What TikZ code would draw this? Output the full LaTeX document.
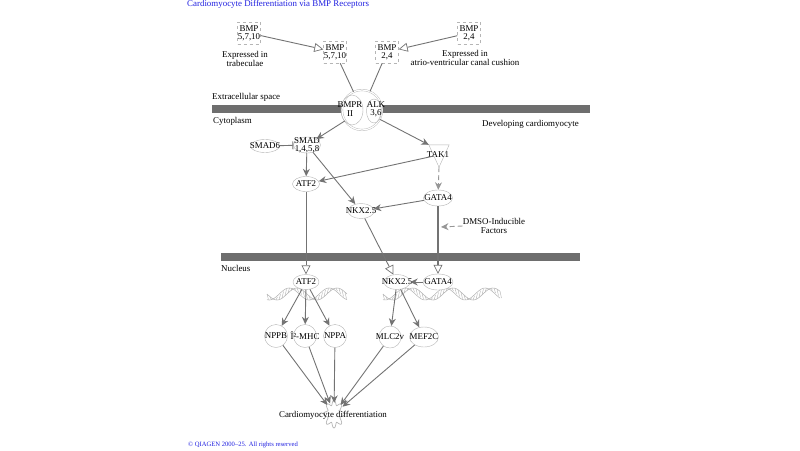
\documentclass[tikz,border=0pt]{standalone}
\usepackage{fontspec}
\setmainfont{Liberation Serif}
\usetikzlibrary{arrows.meta,shapes.geometric,calc}
\definecolor{edgec}{HTML}{737373}
\definecolor{outl}{HTML}{B5B5B5}
\definecolor{barc}{HTML}{6E6E6E}
\definecolor{ttl}{HTML}{2020E0}
\newcommand\mydna[4]{%
  \draw[outl,line width=0.55pt] plot[domain=#1:#2,samples=80] (\x,{#3+6*sin((\x-#4)*9)});
  \draw[outl,line width=0.55pt] plot[domain=#1:#2,samples=80] (\x,{#3+6*sin((\x-#4)*9+70)});
  \pgfmathsetmacro\dnalen{#2-#1}%
  \foreach \t in {0,3,...,\dnalen}{%
    \pgfmathsetmacro\xa{#1+\t}%
    \pgfmathsetmacro\ya{#3+6*sin((\xa-#4)*9)}%
    \pgfmathsetmacro\yb{#3+6*sin((\xa-#4)*9+70)}%
    \draw[outl,line width=0.45pt] (\xa,\ya) -- (\xa+1.5,\yb);
  }%
}
\begin{document}
\begin{tikzpicture}[x=1pt,y=-1pt,font=\fontsize{8.9}{8.9}\selectfont,
  lbl/.style={align=center,inner sep=0pt,font=\fontsize{8.9}{8.4}\selectfont},
  txt/.style={label={[lbl]center:#1}},
  ell/.style={ellipse,draw=outl,fill=white,inner sep=0pt},
  crc/.style={circle,draw=outl,fill=white,inner sep=0pt,minimum size=23pt},
  dbox/.style={draw=outl,dashed,fill=white,inner sep=0pt,minimum width=23pt,minimum height=22pt},
  ln/.style={draw=edgec,line width=0.9pt},
  act/.style={draw=edgec,line width=0.9pt,-{Stealth[length=7.5pt,width=7pt]}},
  opn/.style={draw=edgec,line width=0.9pt,-{Triangle[length=9pt,width=9pt,fill=white,line width=0.7pt]}},
  inh/.style={draw=edgec,line width=0.9pt,-{Bar[width=8pt]}},
  dsh/.style={draw=edgec!75,line width=0.9pt,dash pattern=on 5pt off 3pt,-{Stealth[length=7.5pt,width=7pt]}},
  membrane/.style={fill=barc,draw=none}]
\useasboundingbox (0,0) rectangle (800,450);
% title
\node[anchor=west,text=ttl,inner sep=0pt] (title) at (187,4) {Cardiomyocyte Differentiation via BMP Receptors};
% membranes
\fill[membrane] (212,105) rectangle (590,113);
\fill[membrane] (221,253) rectangle (580,261);
\node[anchor=west,inner sep=0pt] (extra) at (212,97) {Extracellular space};
\node[anchor=west,inner sep=0pt] (cyto) at (213,121) {Cytoplasm};
\node[anchor=west,inner sep=0pt] (dev) at (482,124) {Developing cardiomyocyte};
\node[anchor=west,inner sep=0pt] (nuc) at (221,268) {Nucleus};
% ligands
\node[dbox,txt={BMP\\5,7,10}] (bmpA) at (249,33) {};
\node[lbl] (exA) at (245,59) {Expressed in\\trabeculae};
\node[dbox,txt={BMP\\5,7,10}] (bmpB) at (335,52) {};
\node[dbox,txt={BMP\\2,4}] (bmpC) at (387,52) {};
\node[dbox,txt={BMP\\2,4}] (bmpD) at (469,33) {};
\node[lbl] (exD) at (465,58) {Expressed in\\atrio-ventricular canal cushion};
% receptor
\node[circle,draw=outl,fill=white,double=white,double distance=1.2pt,minimum size=40pt,inner sep=0pt] (rec) at (362,110) {};
\node[ellipse,draw=outl,minimum width=22pt,minimum height=30pt,inner sep=0pt] (bmpr) at (352,110) {};
\node[ellipse,draw=outl,minimum width=15pt,minimum height=24pt,inner sep=0pt] (alk) at (374,111) {};
\node[lbl] (bmprt) at (350,109) {BMPR\\II};
\node[lbl] (alkt) at (376,109) {ALK\\3,6};
% cytoplasm nodes
\node[ell,minimum width=27pt,minimum height=16pt,txt={SMAD\\1,4,5,8}] (smad) at (307,145) {};
\node[ell,minimum width=29pt,minimum height=13pt,txt=SMAD6] (smad6) at (265,146) {};
\node[inner sep=0pt,minimum width=20pt,minimum height=22pt] (tak) at (439,156) {};
\draw[outl,fill=white] (tak.north west) -- (tak.north east) -- (tak.south) -- cycle;
\node[inner sep=0pt] (takt) at (438,155) {TAK1};
\node[ell,minimum width=27pt,minimum height=15pt,txt=ATF2] (atf) at (306,184) {};
\node[ell,minimum width=29pt,minimum height=16pt,txt=GATA4] (gata) at (438,198) {};
\node[ell,minimum width=26pt,minimum height=15pt,txt=NKX2.5] (nkx) at (361,211) {};
\node[lbl] (dmso) at (494,226) {DMSO-Inducible\\Factors};
\coordinate (dm) at (441,227);
% DNA
\mydna{267}{347}{294}{267}
\mydna{383}{500}{294}{383}
% nuclear nodes
\node[ell,minimum width=26pt,minimum height=15pt,txt=ATF2] (atfN) at (306,282) {};
\node[ell,minimum width=26pt,minimum height=15pt,txt=NKX2.5] (nkxN) at (397,282) {};
\node[ell,minimum width=30pt,minimum height=16pt,txt=GATA4] (gataN) at (438,282) {};
% targets
\node[crc,txt=NPPB] (nppb) at (276,336) {};
\node[crc,txt=Î²-MHC] (bmhc) at (305,336) {};
\node[crc,txt=NPPA] (nppa) at (335,336) {};
\node[crc,minimum size=22pt,txt=MLC2v] (mlc) at (390,337) {};
\node[ell,minimum width=29pt,minimum height=20pt,txt=MEF2C] (mef) at (424,337) {};
% outcome
\node[circle,minimum size=22pt,inner sep=0pt] (cd) at (334,414) {};
\draw[outl,line width=0.7pt] plot[domain=0:360,samples=97,smooth cycle] ({334+(8.5+2*cos(8*\x))*cos(\x)},{414+(11.5+2.5*cos(8*\x))*sin(\x)});
\node[inner sep=0pt] (cdt) at (333,415) {Cardiomyocyte differentiation};
\node[anchor=west,text=ttl,inner sep=0pt,font=\fontsize{6.6}{6.6}\selectfont] (copy) at (188,445) {© QIAGEN 2000–25. All rights reserved};
% edges
\draw[opn] (bmpA) -- (bmpB);
\draw[opn] (bmpD) -- (bmpC);
\draw[ln] (bmpB) -- (rec);
\draw[ln] (bmpC) -- (rec);
\draw[act] (rec) -- (smad);
\draw[act] (rec) -- (tak.north west);
\draw[inh] (smad6) -- (smad);
\draw[act] (smad) -- (atf);
\draw[act] (smad) -- (nkx);
\draw[act] ($(tak.north west)!0.5!(tak.south)$) -- (atf);
\draw[dsh] (tak.south) -- (gata);
\draw[act] (gata) -- (nkx);
\draw[dsh] (dmso.west) -- (dm);
\draw[opn] (atf) -- (atfN);
\draw[opn] (nkx) -- (nkxN);
\draw[opn,line width=1.8pt] (gata) -- (gataN);
\draw[act] (gataN) -- (nkxN);
\draw[act] (atfN) -- (nppb);
\draw[act] (atfN) -- (bmhc);
\draw[act] (atfN) -- (nppa);
\draw[act] (nkxN) -- (mlc);
\draw[act] (nkxN) -- (mef);
\draw[act] (nppb) -- (cd);
\draw[act] (bmhc) -- (cd);
\draw[act] (nppa) -- (cd);
\draw[act] (mlc) -- (cd);
\draw[act] (mef) -- (cd);
\end{tikzpicture}
\end{document}
